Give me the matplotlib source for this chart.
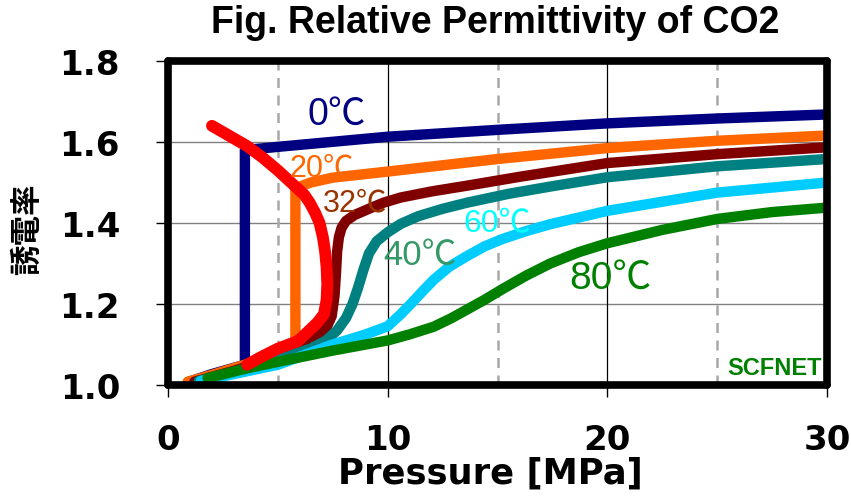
import matplotlib
matplotlib.use("Agg")
import matplotlib.pyplot as plt

# ---------------- data ----------------
p_0c = [0.9, 2.0, 3.5, 3.5, 5.0, 10.0, 15.0, 20.0, 25.0, 30.0]
e_0c = [1.007, 1.027, 1.050, 1.580, 1.588, 1.613, 1.630, 1.646, 1.658, 1.668]

p_20c = [0.9, 2.0, 3.5, 5.0, 5.8, 5.8, 6.1, 6.5, 7.5, 10.0, 15.0, 20.0, 25.0, 30.0]
e_20c = [1.008, 1.025, 1.050, 1.080, 1.100, 1.480, 1.492, 1.500, 1.512, 1.527, 1.558, 1.585, 1.603, 1.616]

p_32c = [1.2, 3.0, 5.0, 6.5, 7.2, 7.45, 7.58, 7.65, 7.7, 7.78, 7.9, 8.1, 8.5, 9.1, 9.8,
         10.6, 12.0, 13.6, 16.0, 20.0, 25.0, 30.0]
e_32c = [1.008, 1.035, 1.070, 1.110, 1.140, 1.170, 1.220, 1.280, 1.330, 1.365, 1.388, 1.405,
         1.420, 1.434, 1.450, 1.463, 1.478, 1.492, 1.514, 1.548, 1.570, 1.587]

p_40c = [1.4, 4.0, 6.5, 7.2, 7.7, 8.1, 8.4, 8.65, 8.9, 9.15, 9.5, 10.0, 10.6, 11.4, 12.5,
         13.6, 15.5, 17.4, 20.0, 25.0, 30.0]
e_40c = [1.010, 1.045, 1.090, 1.110, 1.135, 1.165, 1.200, 1.240, 1.285, 1.325, 1.355, 1.377,
         1.398, 1.417, 1.435, 1.450, 1.472, 1.490, 1.513, 1.540, 1.558]

p_60c = [1.5, 5.0, 7.5, 9.0, 10.0, 10.6, 11.05, 11.6, 12.1, 12.8, 13.6, 14.4, 15.2, 16.3,
         17.4, 20.0, 25.0, 30.0]
e_60c = [1.010, 1.050, 1.100, 1.125, 1.145, 1.175, 1.200, 1.232, 1.260, 1.292, 1.318, 1.342,
         1.360, 1.380, 1.397, 1.430, 1.475, 1.500]

p_80c = [1.8, 3.5, 5.25, 7.5, 10.0, 11.0, 12.1, 12.9, 13.6, 14.4, 15.2, 16.3, 17.4, 18.7,
         20.0, 22.5, 25.0, 27.5, 30.0]
e_80c = [1.017, 1.040, 1.060, 1.085, 1.110, 1.125, 1.144, 1.165, 1.186, 1.210, 1.236, 1.270,
         1.300, 1.328, 1.350, 1.383, 1.410, 1.427, 1.438]

p_sat = [2.0, 2.8, 3.6, 4.3, 5.0, 5.8, 6.2, 6.45, 6.7, 6.9, 7.05, 7.15, 7.22, 7.25, 7.22,
         7.1, 6.8, 6.3, 5.9, 5.0, 4.2, 3.6]
e_sat = [1.640, 1.615, 1.590, 1.562, 1.530, 1.490, 1.470, 1.450, 1.425, 1.400, 1.365, 1.330,
         1.290, 1.250, 1.210, 1.175, 1.154, 1.128, 1.108, 1.090, 1.068, 1.050]

labels = ["0℃", "20℃", "32℃", "40℃", "60℃", "80℃"]
label_p = [7.7, 6.98, 8.53, 11.45, 15.0, 20.15]
label_e = [1.669, 1.538, 1.452, 1.321, 1.400, 1.264]
label_sizes = [27, 22, 22, 25, 23, 28]

x_ticks = [0, 10, 20, 30]
y_ticks = [1.0, 1.2, 1.4, 1.6, 1.8]
y_tick_labels = ["1.0", "1.2", "1.4", "1.6", "1.8"]

title = "Fig. Relative Permittivity of CO2"
xlabel = "Pressure [MPa]"
ylabel = "誘電率"

# ---------------- figure ----------------
W, H = 851, 502
fig = plt.figure(figsize=(W / 100, H / 100), dpi=100)
ax = fig.add_axes([168 / W, 1 - 386 / H, (827 - 168) / W, (386 - 62) / H])
ax.set_xlim(0, 30)
ax.set_ylim(1.0, 1.8)

# grid
for yv in [1.2, 1.4, 1.6]:
    ax.axhline(yv, color="#808080", lw=1.0, zorder=1)
for xv in [10, 20]:
    ax.axvline(xv, color="black", lw=0.9, zorder=1)
for xv in [5, 15, 25]:
    ax.axvline(xv, color="#A8A8A8", lw=1.8, ls=(0, (4, 3)), zorder=1)

series = [
    (p_0c, e_0c, "#000080"),
    (p_20c, e_20c, "#FF6600"),
    (p_32c, e_32c, "#800000"),
    (p_40c, e_40c, "#008080"),
    (p_60c, e_60c, "#00CCFF"),
    (p_80c, e_80c, "#008000"),
]
for i, (px, py, c) in enumerate(series):
    ax.plot(px, py, color=c, lw=7.5, solid_capstyle="round",
            solid_joinstyle="round", zorder=3 + i)
ax.plot(p_sat, e_sat, color="#FF0000", lw=8.5, solid_capstyle="round",
        solid_joinstyle="round", zorder=10)

label_colors = ["#000080", "#FF6600", "#993300", "#339966", "#00FFFF", "#008000"]
fam = ["Liberation Sans", "Noto Sans CJK JP", "DejaVu Sans"]
for t, x, y, s, c in zip(labels, label_p, label_e, label_sizes, label_colors):
    ax.text(x, y, t, color=c, fontsize=s, family=fam, ha="center",
            va="center", zorder=12)
ax.text(27.6, 1.042, "SCFNET", color="#008000", fontsize=17,
        family=["Liberation Sans", "DejaVu Sans"],
        fontweight="bold", ha="center", va="center", zorder=12)

# spines / ticks
for sp in ax.spines.values():
    sp.set_linewidth(5.5)
    sp.set_color("black")
    sp.set_capstyle("round")
    sp.set_zorder(20)

ax.set_xticks(x_ticks)
ax.set_yticks(y_ticks)
ax.set_yticklabels(y_tick_labels)
ax.tick_params(direction="out", length=8.5, width=1.0, color="black",
               labelsize=24.5)
ax.tick_params(axis="y", pad=26)
ax.tick_params(axis="x", pad=19)
for lab in ax.get_xticklabels() + ax.get_yticklabels():
    lab.set_fontweight("bold")
    lab.set_family("DejaVu Sans")

fig.text(495 / W, 1 - 23 / H, title, ha="center", va="center",
         fontsize=27, fontweight="bold",
         family=["Liberation Sans Narrow", "Liberation Sans", "DejaVu Sans"])
fig.text(490 / W, 1 - 474 / H, xlabel, ha="center", va="center",
         fontsize=25.5, fontweight="bold", family="DejaVu Sans")
fig.text(27 / W, 1 - 229 / H, ylabel, ha="center", va="center",
         rotation=90, fontsize=22, fontweight="bold",
         family=["Noto Sans CJK JP", "DejaVu Sans"])

fig.savefig("out.png", dpi=100)
